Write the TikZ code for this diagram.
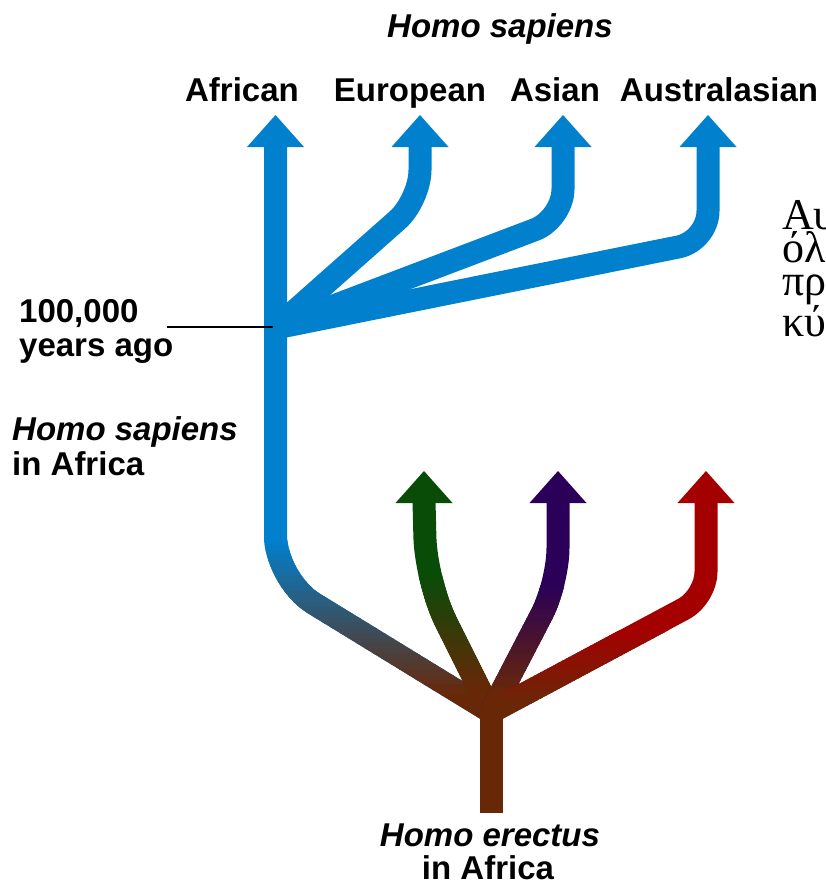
\documentclass[tikz,border=0pt]{standalone}
\usepackage{fontspec}
\setmainfont{Liberation Sans}
\newfontfamily\greekfont{Liberation Serif}
\definecolor{cblue}{RGB}{0,128,205}
\definecolor{cbrown}{RGB}{104,40,8}
\definecolor{cgreen}{RGB}{8,76,8}
\definecolor{cpurple}{RGB}{42,0,88}
\definecolor{cred}{RGB}{165,0,0}
\tikzset{
  branch/.style={line width=23pt, line join=round},
  headtri/.style={fill=#1, draw=none},
  lab/.style={font=\bfseries\fontsize{33}{33}\selectfont, inner sep=0pt},
  ilab/.style={font=\bfseries\itshape\fontsize{33}{33}\selectfont, inner sep=0pt},
  glab/.style={font=\greekfont\fontsize{44}{33}\selectfont, inner sep=0pt, align=left, anchor=north west},
}
\newcommand\gradpath[4]{%
  \draw[branch,#1] #4;
  \foreach \k in {0,...,29}{
    \pgfmathsetmacro\ya{#2+(#3-#2)*\k/30}
    \pgfmathsetmacro\yb{#2+(#3-#2)*(\k+1)/30+0.8}
    \pgfmathtruncatemacro\pc{100*(\k+0.5)/30}
    \begin{scope}
      \clip (0,\ya) rectangle (825,\yb);
      \draw[branch,color=cbrown!\pc!#1] #4;
    \end{scope}
  }
  \begin{scope}
    \clip (0,#3) rectangle (825,890);
    \draw[branch,cbrown] #4;
  \end{scope}
}
\newcommand\arrowhead[2]{% colour, tip name
  \fill[headtri=#1] (#2) -- ++(-28.5,32) -- ++(57,0) -- cycle;
}
\begin{document}
\begin{tikzpicture}[x=1pt,y=-1pt]
\useasboundingbox (0,0) rectangle (825,886);
% named points
\coordinate (tA) at (275.5,115);
\coordinate (tE) at (420,115);
\coordinate (tS) at (563,115);
\coordinate (tU) at (708,115);
\coordinate (bA) at (275.5,145);
\coordinate (bE) at (420,145);
\coordinate (bS) at (563,145);
\coordinate (bU) at (708,145);
\coordinate (cE) at (420,200);
\coordinate (cS) at (563,219);
\coordinate (cU) at (708,241);
\coordinate (bp) at (275.5,328);
\coordinate (cA) at (275.5,580);
\coordinate (J) at (491,712);
\coordinate (B) at (491,813);
\coordinate (tG) at (424,471);
\coordinate (tP) at (558,471);
\coordinate (tR) at (706,471);
\coordinate (bG) at (424,501);
\coordinate (bP) at (558,501);
\coordinate (bR) at (706,501);
\coordinate (cG) at (426,582);
\coordinate (cP) at (558,583);
\coordinate (cR) at (706,597);

% upper blue branches
\draw[branch,cblue,rounded corners=30pt] (bE) -- (cE) -- (bp);
\draw[branch,cblue,rounded corners=30pt] (bS) -- (cS) -- (bp);
\draw[branch,cblue,rounded corners=30pt] (bU) -- (cU) -- (bp);

% lower branches with colour gradients
\gradpath{cblue}{540}{695}{[rounded corners=45pt] (bA) -- (cA) -- (J)}
\gradpath{cgreen}{575}{690}{[rounded corners=45pt] (bG) -- (cG) -- (J)}
\gradpath{cpurple}{585}{695}{[rounded corners=35pt] (bP) -- (cP) -- (J)}
\gradpath{cred}{630}{705}{[rounded corners=25pt] (bR) -- (cR) -- (J)}

% trunk
\draw[branch,cbrown] (J) -- (B);
\fill[cbrown] (J) circle (11.5pt);

% arrowheads
\arrowhead{cblue}{tA}
\arrowhead{cblue}{tE}
\arrowhead{cblue}{tS}
\arrowhead{cblue}{tU}
\arrowhead{cgreen}{tG}
\arrowhead{cpurple}{tP}
\arrowhead{cred}{tR}

% labels
\node[ilab,anchor=base] (hs) at (500,37) {Homo sapiens};
\node[lab,anchor=base] (af) at (242,101) {African};
\node[lab,anchor=base] (eu) at (410,101) {European};
\node[lab,anchor=base] (as) at (555,101) {Asian};
\node[lab,anchor=base] (au) at (719,101) {Australasian};
\node[lab,anchor=base west] (yr1) at (19,322) {100,000};
\node[lab,anchor=base west] (yr2) at (19,356) {years ago};
\coordinate (tickL) at (167,327);
\coordinate (tickR) at (273,327);
\draw[line width=2pt,black] (tickL) -- (tickR);
\node[ilab,anchor=base west] (hsa1) at (12,440) {Homo sapiens};
\node[lab,anchor=base west] (hsa2) at (12,475) {in Africa};
\node[ilab,anchor=base] (he1) at (490,846) {Homo erectus};
\node[lab,anchor=base] (he2) at (488,879) {in Africa};

% cut-off Greek text at the right edge
\begin{scope}
\clip (0,0) rectangle (825,886);
\node[glab] (gr) at (782,200) {Αυ\\όλ\\πρ\\κύ};
\end{scope}
\end{tikzpicture}
\end{document}
